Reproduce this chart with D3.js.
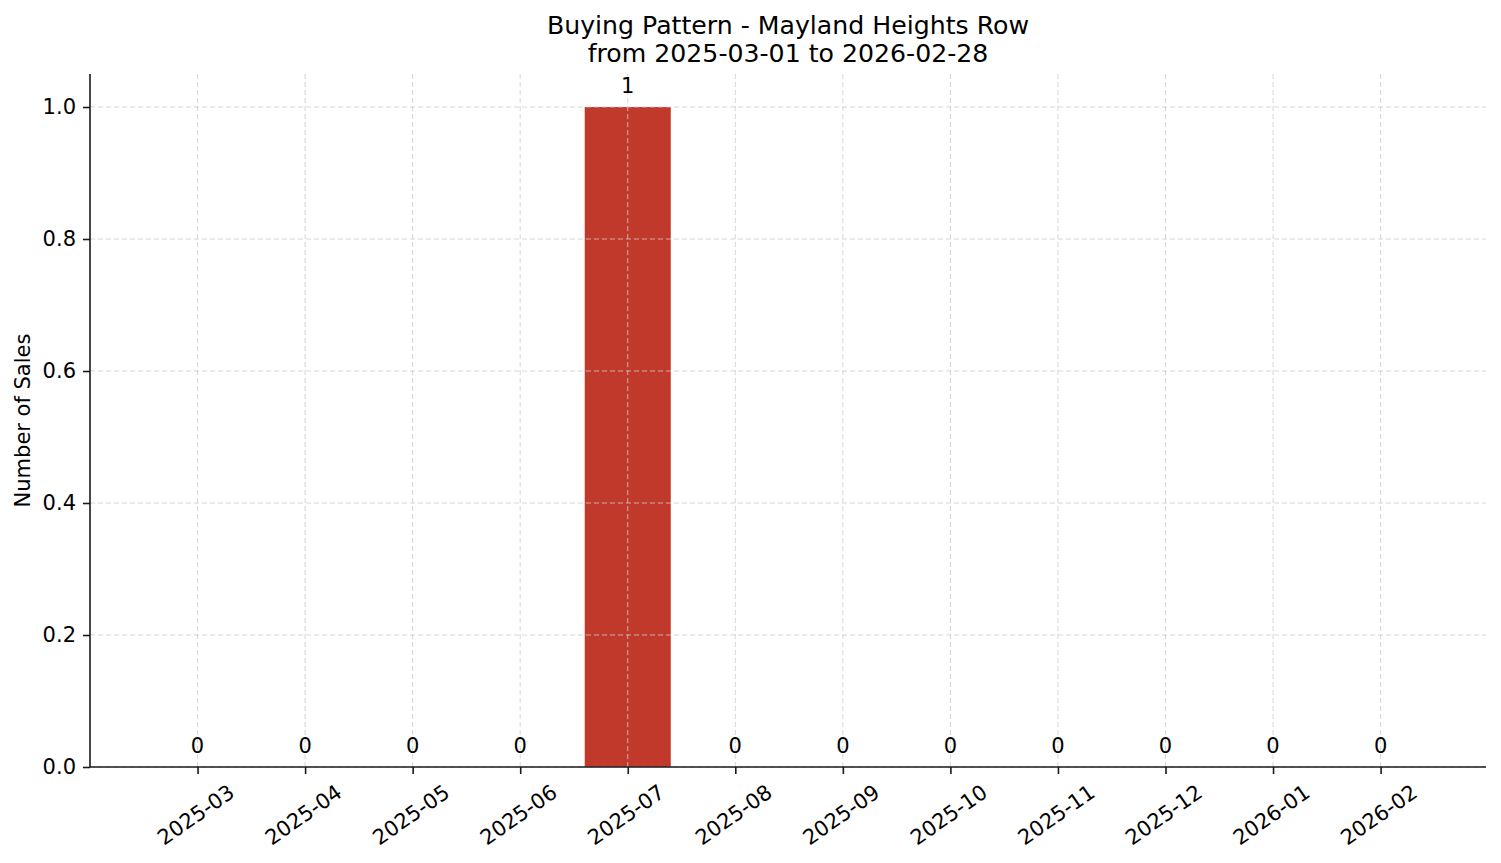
<!DOCTYPE html>
<html>
<head>
<meta charset="utf-8">
<script src="https://cdn.jsdelivr.net/npm/d3@7"></script>
<style>
  body { margin: 0; background: #fff; }
  svg { display: block; font-family: "DejaVu Sans", sans-serif; }
</style>
</head>
<body>
<div id="chart"></div>
<script>
var months = ["2025-03", "2025-04", "2025-05", "2025-06", "2025-07", "2025-08",
              "2025-09", "2025-10", "2025-11", "2025-12", "2026-01", "2026-02"];
var sales = [0, 0, 0, 0, 1, 0, 0, 0, 0, 0, 0, 0];
var yTicks = [0, 0.2, 0.4, 0.6, 0.8, 1.0];
var titleLines = ["Buying Pattern - Mayland Heights Row", "from 2025-03-01 to 2026-02-28"];

var width = 1501, height = 863;
var margin = {top: 74, left: 90, bottom: 96, right: 15};
var plotW = width - margin.left - margin.right;
var plotH = height - margin.top - margin.bottom;
var fontPx = 21;

var svg = d3.select("#chart").append("svg")
  .attr("width", width)
  .attr("height", height);

// matplotlib-style bar positions: index scale with ~5% margins
var xScale = d3.scaleLinear()
  .domain([-1.0, months.length - 1 + 0.98])
  .range([margin.left, margin.left + plotW]);
var barW = xScale(0.8) - xScale(0);

var yScale = d3.scaleLinear()
  .domain([0, 1.05])
  .range([margin.top + plotH, margin.top]);

// bars
svg.append("g").selectAll("rect")
  .data(sales)
  .enter().append("rect")
  .attr("x", (d, i) => xScale(i) - barW / 2)
  .attr("y", d => yScale(d))
  .attr("width", barW)
  .attr("height", d => yScale(0) - yScale(d))
  .style("fill", "#c0392b");

// grid (drawn over the bars like the original)
var grid = svg.append("g")
  .style("stroke", "#cccccc")
  .style("stroke-width", "0.8px")
  .style("stroke-dasharray", "5,3");
grid.selectAll("line.h")
  .data(yTicks)
  .enter().append("line")
  .attr("x1", margin.left)
  .attr("x2", margin.left + plotW)
  .attr("y1", d => yScale(d))
  .attr("y2", d => yScale(d));
grid.selectAll("line.v")
  .data(months)
  .enter().append("line")
  .attr("x1", (d, i) => xScale(i))
  .attr("x2", (d, i) => xScale(i))
  .attr("y1", margin.top)
  .attr("y2", margin.top + plotH);

// value labels
svg.append("g").selectAll("text")
  .data(sales)
  .enter().append("text")
  .attr("x", (d, i) => xScale(i))
  .attr("y", d => yScale(d) - 14)
  .attr("text-anchor", "middle")
  .style("font-size", fontPx + "px")
  .style("fill", "#000")
  .text(d => d);

// y axis
var yAxis = svg.append("g")
  .attr("transform", "translate(" + margin.left + ",0)")
  .call(d3.axisLeft(yScale).tickValues(yTicks).tickFormat(d3.format(".1f")).tickSize(7).tickPadding(7));
yAxis.select(".domain").attr("d", "M0," + margin.top + "V" + (margin.top + plotH));

// x axis
var xAxis = svg.append("g")
  .attr("transform", "translate(0," + (margin.top + plotH) + ")")
  .call(d3.axisBottom(xScale).tickValues(d3.range(months.length)).tickFormat(i => months[i]).tickSize(7));
xAxis.select(".domain").attr("d", "M" + margin.left + ",0H" + (margin.left + plotW));
xAxis.selectAll(".tick text")
  .attr("y", 0)
  .attr("dy", null)
  .attr("transform", "translate(-2,48) rotate(-35)")
  .attr("dominant-baseline", "central")
  .attr("text-anchor", "middle");

svg.selectAll(".domain, .tick line")
  .style("stroke", "#1a1a1a")
  .style("stroke-width", "1.6px");
svg.selectAll(".tick text")
  .style("font-size", fontPx + "px")
  .style("font-family", "DejaVu Sans, sans-serif")
  .style("fill", "#000");

// y label
svg.append("text")
  .attr("transform", "translate(23," + (margin.top + plotH / 2) + ") rotate(-90)")
  .attr("text-anchor", "middle")
  .attr("dominant-baseline", "central")
  .style("font-size", fontPx + "px")
  .style("fill", "#000")
  .text("Number of Sales");

// title
svg.append("text").selectAll("tspan")
  .data(titleLines)
  .enter().append("tspan")
  .attr("x", margin.left + plotW / 2)
  .attr("y", (d, i) => 34 + i * 27.5)
  .attr("text-anchor", "middle")
  .style("font-size", "25.2px")
  .style("fill", "#000")
  .text(d => d);
</script>
</body>
</html>
